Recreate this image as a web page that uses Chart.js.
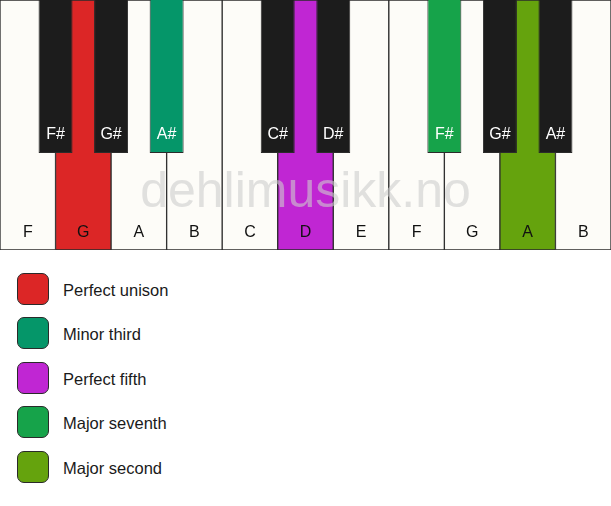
<!DOCTYPE html>
<html>
<head>
<meta charset="utf-8">
<script src="https://cdn.jsdelivr.net/npm/chart.js@4.4.1/dist/chart.umd.min.js"></script>
<style>
  body { margin: 0; background: #fff; font-family: "Liberation Sans", Arial, sans-serif; }
  #keys { position: relative; width: 611px; height: 250px; }
  #legend { list-style: none; margin: 0; padding: 0; position: absolute; left: 17px; top: 272px; }
  #legend li { display: flex; align-items: center; height: 33px; margin-bottom: 11.5px; font-size: 16.5px; color: #1a1a1a; }
  #legend .sw { width: 30px; height: 30px; border: 1.5px solid #2a2a2a; border-radius: 7px; margin-right: 14px; }
  #legend .txt { padding-top: 3px; }
</style>
</head>
<body>
<div id="keys"><canvas id="piano"></canvas></div>
<ul id="legend"></ul>
<script>
// notes on the keyboard
const whiteNotes = ['F', 'G', 'A', 'B', 'C', 'D', 'E', 'F', 'G', 'A', 'B'];
const blackNotes = ['F#', 'G#', 'A#', 'C#', 'D#', 'F#', 'G#', 'A#'];
const blackSlots = [1, 2, 3, 5, 6, 8, 9, 10]; // between white keys
const whiteRange = [0, 1];
const blackRange = [0.388, 1.02];

// intervals (legend) and which key carries them (-1 = plain key)
const intervals = ['Perfect unison', 'Minor third', 'Perfect fifth', 'Major seventh', 'Major second'];
const intervalColors = ['#dc2626', '#059669', '#c026d3', '#16a34a', '#65a30d'];
const whiteMarks = [-1, 0, -1, -1, -1, 2, -1, -1, -1, 4, -1];
const blackMarks = [-1, -1, 1, -1, -1, 3, -1, -1];

const watermark = 'dehlimusikk.no';

const keyLabels = {
  id: 'keyLabels',
  afterDatasetsDraw(chart) {
    const ctx = chart.ctx;
    const y = chart.scales.y;
    ctx.save();
    // watermark
    ctx.font = '50px "Liberation Sans", Arial, sans-serif';
    ctx.textAlign = 'center';
    ctx.textBaseline = 'alphabetic';
    ctx.fillStyle = 'rgba(205,205,205,0.6)';
    ctx.fillText(watermark, (chart.chartArea.left + chart.chartArea.right) / 2, 207);

    ctx.font = '16px "Liberation Sans", Arial, sans-serif';
    const blackMeta = chart.getDatasetMeta(0);
    const whiteMeta = chart.getDatasetMeta(1);
    ctx.fillStyle = '#111';
    whiteMeta.data.forEach((bar, i) => {
      ctx.fillText(whiteNotes[i], bar.x, y.getPixelForValue(whiteRange[0]) - 13);
    });
    ctx.fillStyle = '#fff';
    blackMeta.data.forEach((bar, i) => {
      ctx.fillText(blackNotes[i], bar.x, y.getPixelForValue(blackRange[0]) - 14);
    });
    ctx.restore();
  }
};

const ctx = document.getElementById('piano').getContext('2d');
new Chart(ctx, {
  type: 'bar',
  data: {
    datasets: [
      {
        label: 'black',
        xAxisID: 'xb',
        order: 1,
        data: blackSlots.map((s) => ({ x: s, y: blackRange })),
        backgroundColor: blackMarks.map(m => m < 0 ? '#1c1c1c' : intervalColors[m]),
        borderColor: '#2b2b2b',
        borderWidth: 1,
        borderSkipped: false,
        barPercentage: 0.612,
        categoryPercentage: 1,
        grouped: false
      },
      {
        label: 'white',
        xAxisID: 'xw',
        order: 2,
        data: whiteNotes.map((n, i) => ({ x: i + 0.5, y: whiteRange })),
        backgroundColor: whiteMarks.map(m => m < 0 ? '#fdfcf8' : intervalColors[m]),
        borderColor: '#2b2b2b',
        borderWidth: 1,
        borderSkipped: false,
        barPercentage: 1,
        categoryPercentage: 1,
        grouped: false
      }
    ]
  },
  options: {
    responsive: true,
    maintainAspectRatio: false,
    animation: false,
    events: [],
    layout: { padding: 0 },
    plugins: { legend: { display: false }, tooltip: { enabled: false } },
    scales: {
      xw: { type: 'linear', display: false, min: 0, max: whiteNotes.length, offset: false, ticks: { stepSize: 1 } },
      xb: { type: 'linear', display: false, min: 0, max: whiteNotes.length, offset: false, ticks: { stepSize: 1 } },
      y: { display: false, min: 0, max: 1 }
    }
  },
  plugins: [keyLabels]
});

// legend below the keyboard
const legend = document.getElementById('legend');
intervals.forEach((name, i) => {
  const li = document.createElement('li');
  li.innerHTML = `<span class="sw" style="background:${intervalColors[i]}"></span><span class="txt">${name}</span>`;
  legend.appendChild(li);
});
</script>
</body>
</html>
